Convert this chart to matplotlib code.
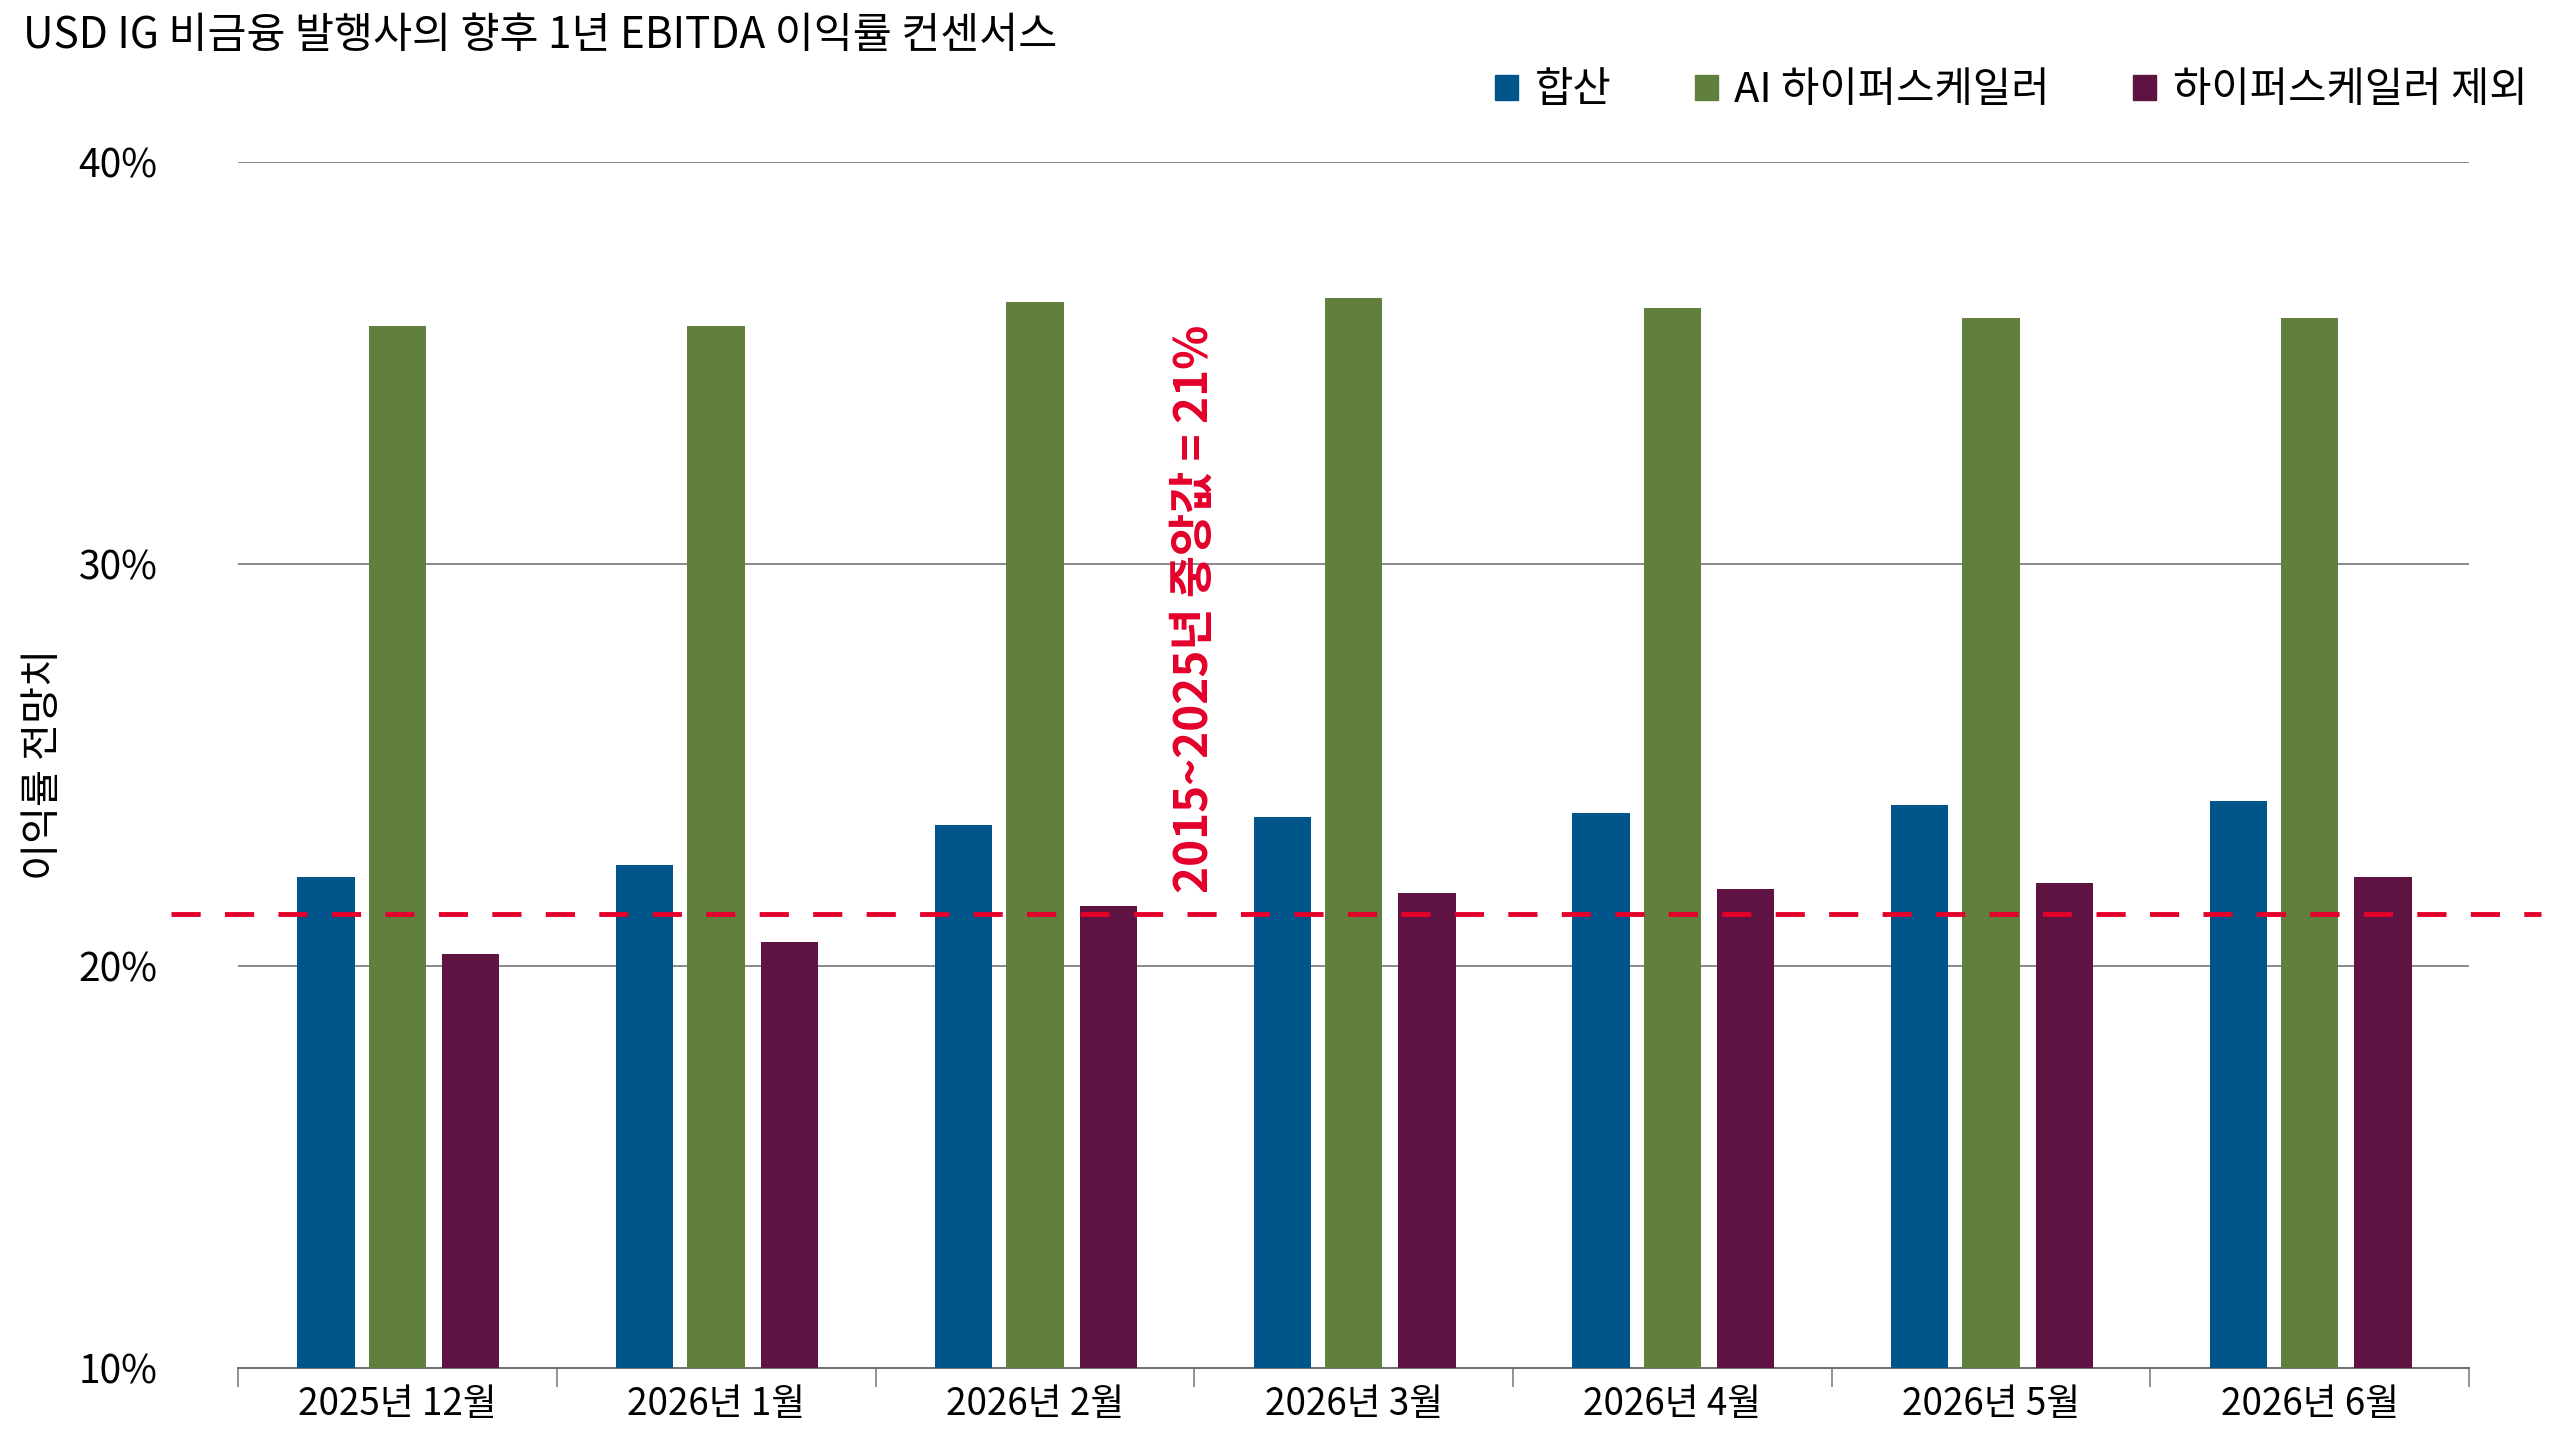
import matplotlib
matplotlib.use('Agg')
import matplotlib.pyplot as plt
from matplotlib.patches import Patch
import numpy as np

plt.rcParams['font.family'] = ['Noto Sans CJK KR', 'DejaVu Sans']

categories = ['2025년 12월', '2026년 1월', '2026년 2월', '2026년 3월',
              '2026년 4월', '2026년 5월', '2026년 6월']
total = [22.2, 22.5, 23.5, 23.7, 23.8, 24.0, 24.1]
ai_hyper = [35.9, 35.9, 36.5, 36.6, 36.35, 36.1, 36.1]
ex_hyper = [20.3, 20.6, 21.5, 21.8, 21.9, 22.05, 22.2]
series_names = ['합산', 'AI 하이퍼스케일러', '하이퍼스케일러 제외']
median_value = 21.3
median_label = '2015~2025년 중앙값 = 21%'
yticks = [10, 20, 30, 40]

colors = ['#00558A', '#62803D', '#5E1342']
red = '#E4002B'
grid_col = '#808080'

fig = plt.figure(figsize=(25.6, 14.4), dpi=100)
ax = fig.add_axes([0.093, 0.05, 0.8715, 0.8378])

x = np.arange(len(categories))
width = 0.18
offsets = [-0.224, 0.0, 0.23]
for vals, off, c in zip([total, ai_hyper, ex_hyper], offsets, colors):
    ax.bar(x + off, np.array(vals) - 10, width, bottom=10, color=c, zorder=3)

ax.set_ylim(10, 40)
ax.set_xlim(-0.5, len(categories) - 0.5)
ax.set_yticks(yticks)
ax.set_yticklabels([f'{v}%' for v in yticks])
ax.tick_params(axis='y', length=0, pad=58, labelsize=28)
for t in ax.get_yticklabels():
    t.set_fontweight('light')
for v in yticks[1:]:
    ax.axhline(v, color=grid_col, lw=1.3, zorder=1)

# category boundaries as major ticks, labels at centres
ax.set_xticks(np.arange(-0.5, len(categories), 1.0))
ax.set_xticklabels([])
ax.set_xticks(x, minor=True)
ax.set_xticklabels(categories, minor=True, fontsize=26.5)
ax.tick_params(axis='x', which='major', length=14, width=1.2, color=grid_col, direction='out')
ax.tick_params(axis='x', which='minor', length=0, pad=12)

for s in ['top', 'right', 'left']:
    ax.spines[s].set_visible(False)
ax.spines['bottom'].set_color('#6E6E6E')
ax.spines['bottom'].set_linewidth(1.4)

ax.set_ylabel('이익률 전망치', fontsize=29)
ax.yaxis.set_label_coords(-0.078, 0.5)

ax.axhline(median_value, xmin=-0.03, xmax=1.032, color=red, lw=3.5,
           dashes=(6, 5), clip_on=False, zorder=4)
ax.text(2.50, 21.8, median_label, rotation=90, color=red, fontsize=33,
        fontweight='bold', ha='center', va='bottom', zorder=5)

fig.text(0.009, 0.975, 'USD IG 비금융 발행사의 향후 1년 EBITDA 이익률 컨센서스',
         fontsize=30.5, ha='left', va='center')

handles = [Patch(color=c) for c in colors]
fig.legend(handles, series_names, loc='center right', bbox_to_anchor=(1.002, 0.937),
           ncol=3, frameon=False, fontsize=30, handlelength=0.55, handleheight=0.55,
           handletextpad=0.4, columnspacing=2.0)

fig.savefig('out.png', dpi=100)
